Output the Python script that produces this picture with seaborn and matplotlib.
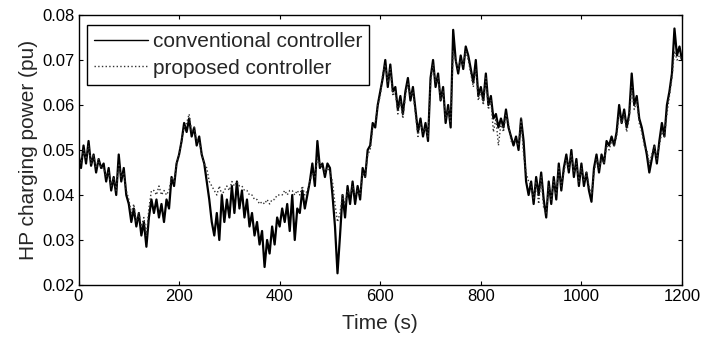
import numpy as np
import pandas as pd
import matplotlib
matplotlib.use("Agg")
import matplotlib.pyplot as plt
import seaborn as sns

# time axis (s), one sample every 5 s
time_s = list(range(0, 1201, 5))

conventional = [
    0.049, 0.046, 0.051, 0.047, 0.052, 0.0465, 0.049, 0.045, 0.048, 0.046,
    0.047, 0.043, 0.046, 0.041, 0.044, 0.040, 0.049, 0.043, 0.046, 0.040,
    0.038, 0.034, 0.037, 0.033, 0.036, 0.031, 0.034, 0.0285, 0.035, 0.039,
    0.036, 0.039, 0.035, 0.038, 0.034, 0.039, 0.037, 0.044, 0.042, 0.047,
    0.049, 0.052, 0.056, 0.054, 0.057, 0.053, 0.055, 0.051, 0.053, 0.049,
    0.047, 0.043, 0.039, 0.034, 0.031, 0.036, 0.030, 0.040, 0.034, 0.039,
    0.035, 0.042, 0.036, 0.043, 0.037, 0.041, 0.035, 0.039, 0.033, 0.036,
    0.031, 0.034, 0.029, 0.032, 0.024, 0.030, 0.027, 0.033, 0.029, 0.035,
    0.033, 0.037, 0.034, 0.038, 0.032, 0.040, 0.030, 0.037, 0.036, 0.041,
    0.037, 0.040, 0.043, 0.047, 0.042, 0.052, 0.046, 0.047, 0.044, 0.047,
    0.046, 0.040, 0.033, 0.0226, 0.031, 0.040, 0.035, 0.042, 0.038, 0.043,
    0.038, 0.042, 0.039, 0.046, 0.044, 0.050, 0.051, 0.056, 0.055, 0.060,
    0.063, 0.066, 0.070, 0.064, 0.069, 0.063, 0.064, 0.059, 0.062, 0.058,
    0.063, 0.066, 0.061, 0.064, 0.059, 0.054, 0.057, 0.053, 0.056, 0.052,
    0.066, 0.070, 0.064, 0.067, 0.061, 0.064, 0.056, 0.060, 0.055, 0.0767,
    0.070, 0.067, 0.071, 0.068, 0.073, 0.071, 0.068, 0.065, 0.070, 0.062,
    0.064, 0.061, 0.067, 0.060, 0.062, 0.057, 0.058, 0.055, 0.057, 0.055,
    0.059, 0.055, 0.053, 0.051, 0.053, 0.050, 0.057, 0.052, 0.043, 0.040,
    0.043, 0.038, 0.044, 0.040, 0.045, 0.039, 0.035, 0.043, 0.038, 0.044,
    0.039, 0.047, 0.041, 0.046, 0.049, 0.045, 0.050, 0.044, 0.048, 0.042,
    0.047, 0.042, 0.045, 0.041, 0.0385, 0.046, 0.049, 0.045, 0.049, 0.047,
    0.052, 0.051, 0.053, 0.051, 0.054, 0.060, 0.056, 0.059, 0.055, 0.058,
    0.067, 0.060, 0.062, 0.057, 0.055, 0.052, 0.049, 0.045, 0.048, 0.051,
    0.047, 0.052, 0.056, 0.053, 0.060, 0.063, 0.067, 0.077, 0.071, 0.073,
    0.070,
]

proposed = [
    0.048, 0.047, 0.050, 0.048, 0.051, 0.047, 0.049, 0.046, 0.048, 0.046,
    0.046, 0.044, 0.045, 0.042, 0.044, 0.041, 0.047, 0.044, 0.045, 0.041,
    0.039, 0.036, 0.038, 0.034, 0.036, 0.033, 0.035, 0.031, 0.037, 0.041,
    0.041, 0.040, 0.042, 0.040, 0.041, 0.040, 0.041, 0.044, 0.043, 0.047,
    0.049, 0.052, 0.055, 0.056, 0.058, 0.054, 0.055, 0.052, 0.052, 0.049,
    0.047, 0.046, 0.043, 0.042, 0.041, 0.040, 0.042, 0.040, 0.041, 0.042,
    0.041, 0.043, 0.042, 0.043, 0.042, 0.042, 0.041, 0.041, 0.040, 0.040,
    0.039, 0.039, 0.038, 0.0385, 0.038, 0.039, 0.038, 0.039, 0.039, 0.040,
    0.040, 0.040, 0.041, 0.040, 0.041, 0.041, 0.040, 0.041, 0.040, 0.042,
    0.040, 0.041, 0.043, 0.045, 0.044, 0.048, 0.047, 0.046, 0.045, 0.046,
    0.045, 0.043, 0.038, 0.034, 0.036, 0.040, 0.038, 0.041, 0.040, 0.042,
    0.040, 0.041, 0.040, 0.045, 0.044, 0.049, 0.050, 0.055, 0.056, 0.060,
    0.062, 0.067, 0.069, 0.065, 0.068, 0.062, 0.063, 0.058, 0.061, 0.057,
    0.062, 0.065, 0.062, 0.063, 0.058, 0.053, 0.056, 0.054, 0.055, 0.053,
    0.065, 0.069, 0.065, 0.066, 0.061, 0.063, 0.057, 0.059, 0.056, 0.072,
    0.070, 0.068, 0.070, 0.069, 0.072, 0.070, 0.067, 0.064, 0.068, 0.061,
    0.063, 0.060, 0.066, 0.059, 0.061, 0.054, 0.057, 0.051, 0.056, 0.054,
    0.058, 0.056, 0.052, 0.052, 0.052, 0.051, 0.057, 0.049, 0.045, 0.043,
    0.042, 0.039, 0.043, 0.038, 0.044, 0.037, 0.036, 0.042, 0.039, 0.043,
    0.040, 0.046, 0.042, 0.045, 0.048, 0.046, 0.049, 0.045, 0.047, 0.043,
    0.046, 0.043, 0.045, 0.042, 0.040, 0.045, 0.048, 0.046, 0.048, 0.047,
    0.051, 0.050, 0.052, 0.051, 0.053, 0.058, 0.056, 0.058, 0.054, 0.057,
    0.064, 0.059, 0.061, 0.056, 0.054, 0.051, 0.050, 0.047, 0.049, 0.051,
    0.048, 0.051, 0.054, 0.053, 0.058, 0.062, 0.066, 0.072, 0.070, 0.071,
    0.070,
]

x_ticks = [0, 200, 400, 600, 800, 1000, 1200]
y_ticks = [0.02, 0.03, 0.04, 0.05, 0.06, 0.07, 0.08]
y_tick_labels = ["0.02", "0.03", "0.04", "0.05", "0.06", "0.07", "0.08"]

df = pd.DataFrame({"time": time_s, "conventional": conventional, "proposed": proposed})

sns.set_style("ticks")
plt.rcParams["font.family"] = ["Liberation Sans", "DejaVu Sans"]

fig = plt.figure(figsize=(7.02, 3.45), dpi=100)
ax = fig.add_axes([78.5 / 702, 1 - 285 / 345, (682 - 78.5) / 702, 270 / 345])

sns.lineplot(data=df, x="time", y="conventional", ax=ax, color="black",
             linewidth=1.6, label="conventional controller")
sns.lineplot(data=df, x="time", y="proposed", ax=ax, color="#333333",
             linewidth=1.0, linestyle=":", label="proposed controller")

ax.set_xlim(0, 1200)
ax.set_ylim(0.02, 0.08)
ax.set_xticks(x_ticks)
ax.set_xticklabels([str(v) for v in x_ticks])
ax.set_yticks(y_ticks)
ax.set_yticklabels(y_tick_labels)
ax.tick_params(direction="in", top=True, right=True, length=3, width=0.8,
               labelsize=12, colors="black", pad=3)
for s in ax.spines.values():
    s.set_visible(True)
    s.set_color("black")
    s.set_linewidth(1.0)

ax.set_xlabel("Time (s)", fontsize=15, labelpad=7)
ax.set_ylabel("HP charging power (pu)", fontsize=15, labelpad=3)

leg = ax.legend(loc="upper left", bbox_to_anchor=(0.014, 0.963), fontsize=15,
                frameon=True, fancybox=False, framealpha=1, edgecolor="black",
                handlelength=2.6, handletextpad=0.2, borderpad=0.35,
                labelspacing=0.35, borderaxespad=0)
leg.get_frame().set_linewidth(1.0)
for h in leg.get_lines():
    h.set_linewidth(1.0)

fig.savefig("out.png", dpi=100)
